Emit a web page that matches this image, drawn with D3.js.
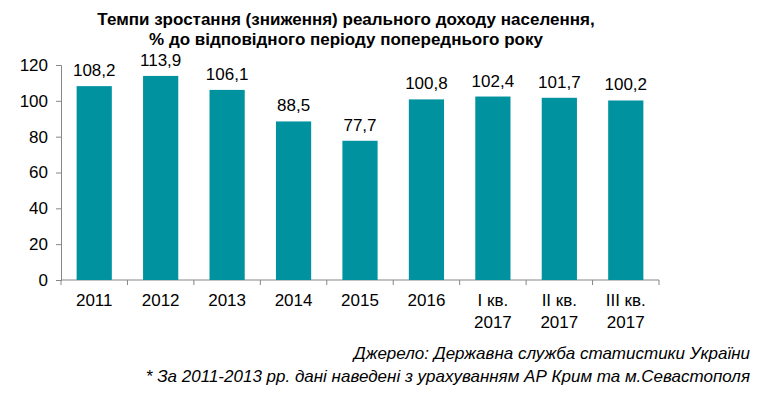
<!DOCTYPE html>
<html>
<head>
<meta charset="utf-8">
<script src="https://cdn.jsdelivr.net/npm/d3@7"></script>
<style>
  body { margin: 0; background: #fff; }
  text { font-family: "Liberation Sans", Arial, sans-serif; fill: #000; }
</style>
</head>
<body>
<div id="container"></div>
<script>
// Dados
var categorias = ["2011", "2012", "2013", "2014", "2015", "2016", "I кв.|2017", "II кв.|2017", "III кв.|2017"];
var valores = [108.2, 113.9, 106.1, 88.5, 77.7, 100.8, 102.4, 101.7, 100.2];
var yTicks = [0, 20, 40, 60, 80, 100, 120];

var margin = { top: 65, left: 61, right: 122, bottom: 114 },
  width = 781 - margin.left - margin.right,
  height = 394 - margin.top - margin.bottom;

var fs = 17;

var root = d3.select("#container")
  .append("svg")
  .attr("width", 781)
  .attr("height", 394);

var svg = root.append("g")
  .attr("transform", "translate(" + margin.left + "," + margin.top + ")");

// Escalas
var x = d3.scaleBand()
  .domain(categorias)
  .range([0, width])
  .paddingInner(0.47)
  .paddingOuter(0.235);

var y = d3.scaleLinear()
  .domain([0, 120])
  .range([height, 0]);

// Eixo y
var yAxis = svg.append("g")
  .call(d3.axisLeft(y).tickValues(yTicks).tickSize(5).tickPadding(8));
yAxis.selectAll("text").attr("font-size", fs).attr("fill", "#000")
  .style("font-family", "'Liberation Sans', Arial, sans-serif");
yAxis.selectAll("line, path").attr("stroke", "#868686");

// Eixo x (ticks entre as categorias)
svg.append("line")
  .attr("x1", 0).attr("x2", width)
  .attr("y1", height).attr("y2", height)
  .attr("stroke", "#868686");

var step = x.step();
svg.selectAll(".xtick")
  .data(d3.range(categorias.length + 1))
  .enter().append("line")
  .attr("x1", function(i) { return i * step; })
  .attr("x2", function(i) { return i * step; })
  .attr("y1", height)
  .attr("y2", height + 5)
  .attr("stroke", "#868686");

// Barras
svg.selectAll(".bar")
  .data(valores)
  .enter().append("rect")
  .attr("x", function(d, i) { return x(categorias[i]); })
  .attr("width", x.bandwidth())
  .attr("y", function(d) { return y(d); })
  .attr("height", function(d) { return height - y(d); })
  .attr("fill", "#00939f");

// Rótulos dos valores
svg.selectAll(".val")
  .data(valores)
  .enter().append("text")
  .attr("x", function(d, i) { return x(categorias[i]) + x.bandwidth() / 2; })
  .attr("y", function(d) { return y(d) - 10; })
  .attr("text-anchor", "middle")
  .attr("font-size", fs)
  .text(function(d) { return d.toFixed(1).replace(".", ","); });

// Rótulos das categorias
var catLabels = svg.selectAll(".cat")
  .data(categorias)
  .enter().append("text")
  .attr("x", function(d) { return x(d) + x.bandwidth() / 2; })
  .attr("y", height + 26)
  .attr("text-anchor", "middle")
  .attr("font-size", fs);

catLabels.each(function(d) {
  var el = d3.select(this);
  var cx = el.attr("x");
  d.split("|").forEach(function(part, k) {
    el.append("tspan").attr("x", cx).attr("dy", k === 0 ? 0 : 22).text(part);
  });
});

// Título
root.append("text")
  .attr("x", 346).attr("y", 25)
  .attr("text-anchor", "middle")
  .attr("font-weight", "bold")
  .attr("font-size", fs)
  .text("Темпи зростання (зниження) реального доходу населення,");

root.append("text")
  .attr("x", 346).attr("y", 45)
  .attr("text-anchor", "middle")
  .attr("font-weight", "bold")
  .attr("font-size", fs)
  .text("% до відповідного періоду попереднього року");

// Fonte
root.append("text")
  .attr("x", 750).attr("y", 359)
  .attr("text-anchor", "end")
  .attr("font-style", "italic")
  .attr("font-size", fs)
  .text("Джерело: Державна служба статистики України");

root.append("text")
  .attr("x", 750).attr("y", 382)
  .attr("text-anchor", "end")
  .attr("font-style", "italic")
  .attr("font-size", fs)
  .text("* За 2011-2013 рр. дані наведені з урахуванням АР Крим та м.Севастополя");
</script>
</body>
</html>
